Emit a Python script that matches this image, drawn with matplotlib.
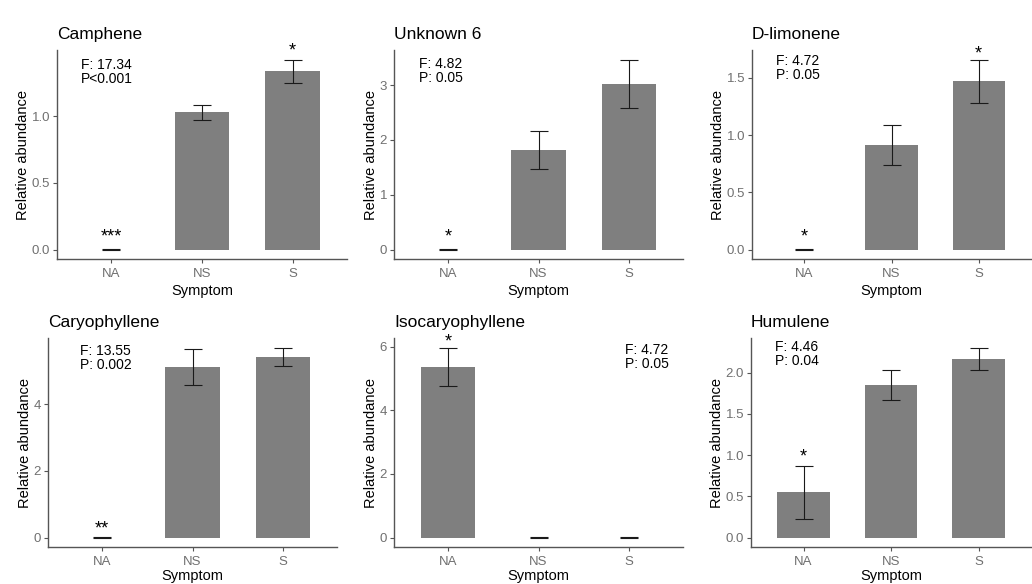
import matplotlib
matplotlib.use("Agg")
import matplotlib.pyplot as plt

plt.rcParams['font.family'] = ['Liberation Sans', 'DejaVu Sans']

# groups on the x axis
groups = ["NA", "NS", "S"]

# one entry per panel, in reading order
compounds = ["Camphene", "Unknown 6", "D-limonene",
             "Caryophyllene", "Isocaryophyllene", "Humulene"]
means = [
    [0.0, 1.03, 1.34],
    [0.0, 1.82, 3.03],
    [0.0, 0.917, 1.47],
    [0.0, 5.12, 5.43],
    [5.37, 0.0, 0.0],
    [0.55, 1.85, 2.17],
]
se = [
    [0.002, 0.055, 0.088],
    [0.004, 0.345, 0.44],
    [0.006, 0.175, 0.19],
    [0.01, 0.54, 0.27],
    [0.61, 0.005, 0.005],
    [0.32, 0.18, 0.135],
]
stars = [
    ["***", "", "*"],
    ["*", "", ""],
    ["*", "", "*"],
    ["**", "", ""],
    ["*", "", ""],
    ["*", "", ""],
]
# height (data units) of the significance stars
star_y = [
    [0.13, 0, 1.53],
    [0.31, 0, 0],
    [0.15, 0, 1.755],
    [0.40, 0, 0],
    [6.30, 0, 0],
    [1.04, 0, 0],
]
stats = ["F: 17.34\nP<0.001", "F: 4.82\nP: 0.05", "F: 4.72\nP: 0.05",
         "F: 13.55\nP: 0.002", "F: 4.72\nP: 0.05", "F: 4.46\nP: 0.04"]
yticks = [
    [0.0, 0.5, 1.0],
    [0, 1, 2, 3],
    [0.0, 0.5, 1.0, 1.5],
    [0, 2, 4],
    [0, 2, 4, 6],
    [0.0, 0.5, 1.0, 1.5, 2.0],
]
tickfmt = ["%.1f", "%d", "%.1f", "%d", "%d", "%.1f"]

# layout (pixels) of each panel: left, right, bottom, top
W, H = 1032, 584
boxes = [(57, 347, 259, 50), (394, 683, 259, 50), (752, 1031, 259, 50),
         (48, 337, 547, 338), (394, 683, 547, 338), (751, 1031, 547, 338)]
# where the F/P text goes, in axes fraction
stat_pos = [(0.083, 0.96), (0.086, 0.965), (0.086, 0.98),
            (0.11, 0.97), (0.80, 0.975), (0.086, 0.99)]

fig = plt.figure(figsize=(W / 100, H / 100), dpi=100)

for i in range(6):
    l, r, b, t = boxes[i]
    ax = fig.add_axes([l / W, (H - b) / H, (r - l) / W, (b - t) / H])
    x = [1, 2, 3]
    ax.bar(x, means[i], width=0.6, color='#7f7f7f', zorder=2)
    ax.errorbar(x, means[i], yerr=se[i], fmt='none', ecolor='#1a1a1a',
                elinewidth=0.8, capsize=6.5, capthick=0.8, zorder=3)

    top = max(m + s for m, s in zip(means[i], se[i]))
    ax.set_ylim(-0.05 * top, 1.05 * top)
    ax.set_xlim(0.4, 3.6)

    for j in range(3):
        if stars[i][j]:
            ax.annotate(stars[i][j], (x[j], star_y[i][j]), xytext=(0, -3.5),
                        textcoords='offset points', ha='center', va='center',
                        fontsize=13, color='black', annotation_clip=False)

    ax.text(stat_pos[i][0], stat_pos[i][1], stats[i], transform=ax.transAxes,
            ha='left', va='top', fontsize=10, linespacing=0.95)

    ax.set_xticks(x)
    ax.set_xticklabels(groups)
    ax.set_yticks(yticks[i])
    ax.set_yticklabels([tickfmt[i] % v for v in yticks[i]])
    ax.tick_params(colors='#555555', labelcolor='#707070', labelsize=9.5,
                   length=3, width=0.8)
    ax.tick_params(axis='x', pad=3.5)
    ax.tick_params(axis='y', pad=2)

    for side in ['top', 'right']:
        ax.spines[side].set_visible(False)
    for side in ['left', 'bottom']:
        ax.spines[side].set_color('#555555')
        ax.spines[side].set_linewidth(1.0)

    ax.set_title(compounds[i], loc='left', fontsize=12.5, pad=8)
    ax.set_ylabel("Relative abundance", fontsize=10.5, labelpad=1)
    ax.set_xlabel("Symptom", fontsize=10.5, labelpad=3 if i < 3 else 0.5)

fig.savefig("out.png", dpi=100)
